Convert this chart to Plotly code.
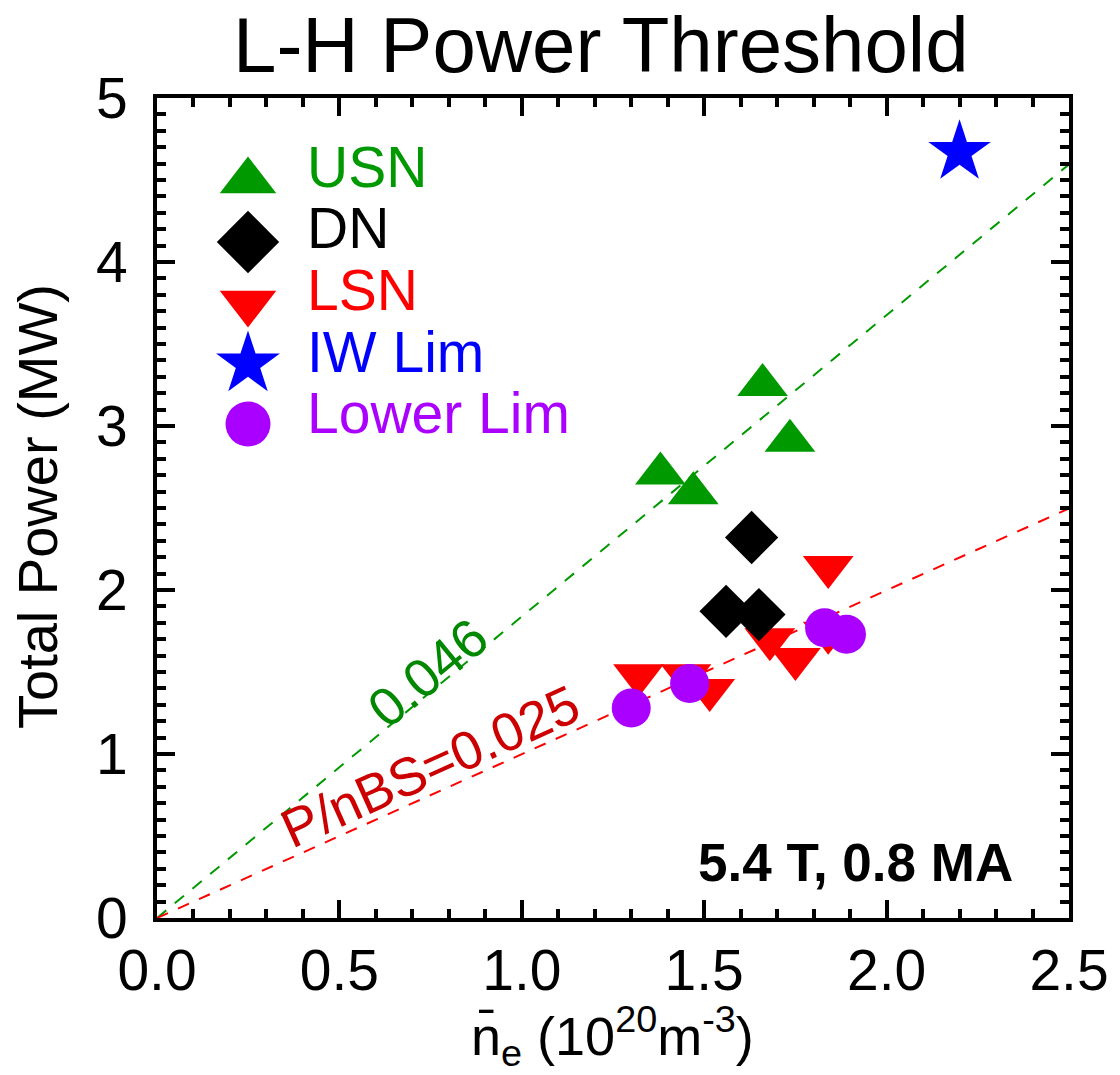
import math
import plotly.graph_objects as go

# L-H threshold points: line-averaged density (1e20 m^-3) and total power (MW)
usn_ne = [1.38, 1.47, 1.66, 1.735]
usn_p = [2.71, 2.59, 3.25, 2.91]
dn_ne = [1.63, 1.56, 1.65]
dn_p = [2.32, 1.87, 1.85]
lsn_ne = [1.32, 1.45, 1.515, 1.68, 1.75, 1.84, 1.84]
lsn_p = [1.48, 1.48, 1.39, 1.70, 1.58, 2.14, 1.74]
iw_ne = [2.20]
iw_p = [4.67]
lower_ne = [1.30, 1.46, 1.83, 1.89]
lower_p = [1.28, 1.43, 1.77, 1.73]

# Scaling lines P = C * n * B * S
b_tor = 5.4
surface = 7.4
scaling_c = [0.046, 0.025]
ne_line = [0.0, 2.5]

x_ticks = [0.0, 0.5, 1.0, 1.5, 2.0, 2.5]
y_ticks = [0, 1, 2, 3, 4, 5]

legend_names = ["USN", "DN", "LSN", "IW Lim", "Lower Lim"]

GREEN = "#009900"
RED = "#FF0000"
BLUE = "#0000FF"
PURPLE = "#AA00FF"
FONT = "Liberation Sans, Arial, sans-serif"

# page geometry of the plotting box
W, H = 1120, 1075
L, R, T, B = 157, 1069, 98, 918


def px_x(px):
    return (px - L) / (R - L)


def px_y(py):
    return (B - py) / (B - T)


fig = go.Figure()

line_colors = [GREEN, RED]
for c, col in zip(scaling_c, line_colors):
    fig.add_trace(go.Scatter(
        x=ne_line, y=[c * n * b_tor * surface for n in ne_line],
        mode="lines", line=dict(color=col, width=2, dash="12px,11px"),
        hoverinfo="skip", showlegend=False))

groups = [
    (usn_ne, usn_p, "triangle-up", GREEN, 44),
    (lsn_ne, lsn_p, "triangle-down", RED, 44),
    (dn_ne, dn_p, "diamond", "black", 41),
    (lower_ne, lower_p, "circle", PURPLE, 39),
    (iw_ne, iw_p, "star", BLUE, 47),
]
for xs, ys, sym, col, sz in groups:
    fig.add_trace(go.Scatter(
        x=xs, y=ys, mode="markers",
        marker=dict(symbol=sym, color=col, size=sz, line=dict(width=0)),
        showlegend=False))

# hand-built key on a page-pixel overlay
key_sym = ["triangle-up", "diamond", "triangle-down", "star", "circle"]
key_col = [GREEN, "black", RED, BLUE, PURPLE]
key_size = [49, 48, 49, 48, 45]
key_sym_y = [181, 242, 303, 364, 424]
key_txt_y = [167, 228, 290, 352, 413]
for s, c, sz, yy in zip(key_sym, key_col, key_size, key_sym_y):
    fig.add_trace(go.Scatter(
        x=[248], y=[yy], xaxis="x2", yaxis="y2", mode="markers",
        marker=dict(symbol=s, color=c, size=sz, line=dict(width=0)),
        showlegend=False, hoverinfo="skip"))

annotations = []
for name, c, yy in zip(legend_names, key_col, key_txt_y):
    annotations.append(dict(
        x=px_x(305), y=px_y(yy), xref="paper", yref="paper", text=name,
        showarrow=False, xanchor="left", yanchor="middle",
        font=dict(family=FONT, size=57, color=c)))

# slope labels along the lines
px_per_x = (R - L) / 2.5
px_per_y = (B - T) / 5.0
label_specs = [
    ("0.046", 0.046, "#008800", 0.77, 17),
    ("P/nBS=0.025", 0.025, "#CC0000", 0.78, 27),
]
for txt, c, col, xl, d in label_specs:
    slope = c * b_tor * surface
    ang = math.degrees(math.atan(slope * px_per_y / px_per_x))
    annotations.append(dict(
        x=xl, y=slope * xl, xref="x", yref="y", text=txt, showarrow=False,
        textangle=-ang, xanchor="center", yanchor="middle",
        xshift=-d * math.sin(math.radians(ang)),
        yshift=d * math.cos(math.radians(ang)),
        font=dict(family=FONT, size=54, color=col)))

annotations.append(dict(
    x=px_x(1015), y=px_y(862), xref="paper", yref="paper",
    text="<b>5.4 T, 0.8 MA</b>",
    showarrow=False, xanchor="right", yanchor="middle",
    font=dict(family=FONT, size=53, color="black")))

annotations.append(dict(
    x=px_x(601), y=px_y(45), xref="paper", yref="paper",
    text="L-H Power Threshold",
    showarrow=False, xanchor="center", yanchor="middle",
    font=dict(family=FONT, size=78, color="black")))

annotations.append(dict(
    x=px_x(37), y=px_y(507), xref="paper", yref="paper",
    text="Total Power (MW)",
    showarrow=False, textangle=-90, xanchor="center", yanchor="middle",
    font=dict(family=FONT, size=56, color="black")))

annotations.append(dict(
    x=px_x(612), y=px_y(1036), xref="paper", yref="paper",
    text="n\u0304<sub>e</sub> (10<sup>20</sup>m<sup>-3</sup>)",
    showarrow=False, xanchor="center", yanchor="middle",
    font=dict(family=FONT, size=54, color="black")))

axis_common = dict(
    showgrid=False, zeroline=False, showline=True, linecolor="black",
    linewidth=4, mirror="allticks", ticks="inside", ticklen=18,
    tickwidth=4, tickcolor="black",
    tickfont=dict(family=FONT, size=57, color="black"),
    minor=dict(ticks="inside", ticklen=9, tickwidth=4, tickcolor="black",
               showgrid=False, dtick=0.1),
)

fig.update_layout(
    width=W, height=H,
    margin=dict(l=L, r=W - R, t=T, b=H - B, pad=0),
    paper_bgcolor="white", plot_bgcolor="white",
    showlegend=False,
    xaxis=dict(range=[0, 2.5], tickvals=x_ticks,
               ticktext=[f"{v:.1f}" for v in x_ticks],
               ticklabelstandoff=0, **axis_common),
    yaxis=dict(range=[0, 5], tickvals=y_ticks,
               ticktext=[str(v) for v in y_ticks],
               ticklabelstandoff=14, **axis_common),
    xaxis2=dict(overlaying="x", range=[L, R], visible=False,
                fixedrange=True, anchor="y2"),
    yaxis2=dict(overlaying="y", range=[B, T], visible=False,
                fixedrange=True, anchor="x2"),
    annotations=annotations,
)

fig.write_html("out.html")
